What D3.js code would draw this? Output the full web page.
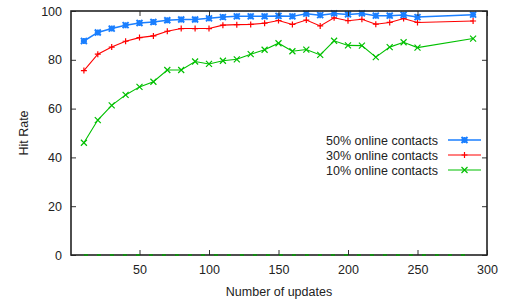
<!DOCTYPE html>
<html>
<head>
<meta charset="utf-8">
<script src="https://cdn.jsdelivr.net/npm/d3@7"></script>
<style>
  body { margin: 0; background: #fff; }
  text { font-family: "Liberation Sans", Arial, sans-serif; font-size: 12.5px; fill: #222; }
</style>
</head>
<body>
<div id="chart"></div>
<script>
// Data
var updates = [10, 20, 30, 40, 50, 60, 70, 80, 90, 100, 110, 120, 130, 140, 150,
               160, 170, 180, 190, 200, 210, 220, 230, 240, 250, 290];
var online50 = [87.7, 91.2, 92.8, 94.2, 95.1, 95.5, 96.2, 96.5, 96.5, 97.0, 97.5, 97.8, 97.8, 97.8, 98.0,
                97.8, 98.9, 98.3, 99.0, 98.6, 99.0, 98.1, 98.1, 98.4, 97.5, 98.5];
var online30 = [75.6, 82.3, 85.2, 87.6, 89.1, 89.8, 91.7, 92.8, 92.8, 92.8, 94.2, 94.4, 94.5, 95.0, 96.1,
                94.5, 96.3, 93.9, 97.2, 96.0, 96.6, 94.6, 95.3, 96.9, 95.3, 95.9];
var online10 = [46.0, 55.3, 61.3, 65.6, 68.9, 71.0, 75.8, 75.8, 79.3, 78.3, 79.6, 80.2, 82.3, 84.1, 86.8,
                83.5, 84.2, 82.0, 87.8, 85.9, 85.8, 81.1, 85.2, 87.2, 85.0, 88.7];
var baseline = updates.map(function() { return 0; });
var xTicks = [50, 100, 150, 200, 250, 300];
var yTicks = [0, 20, 40, 60, 80, 100];

var series = [
  { name: "50% online contacts", values: online50, color: "#1a7fff", mark: "star" },
  { name: "30% online contacts", values: online30, color: "#ff0000", mark: "plus" },
  { name: "10% online contacts", values: online10, color: "#00c000", mark: "cross" }
];

// Chart size
var width = 509, height = 302;
var plotL = 71, plotR = 487, plotT = 11, plotB = 255;

var xScale = d3.scaleLinear().domain([0, 300]).range([plotL - 1, plotR]);
var yScale = d3.scaleLinear().domain([0, 100]).range([plotB, plotT]);

var svg = d3.select('#chart').append('svg')
            .attr('width', width)
            .attr('height', height);

var line = d3.line()
             .x(function(d, i) { return xScale(updates[i]); })
             .y(function(d) { return yScale(d); });

// Markers
function drawMark(g, type, x, y, color) {
  var s = 3;
  var d = '';
  if (type === 'plus' || type === 'star') d += 'M' + (x - s) + ',' + y + 'H' + (x + s) + 'M' + x + ',' + (y - s) + 'V' + (y + s);
  if (type === 'cross' || type === 'star') d += 'M' + (x - s) + ',' + (y - s) + 'L' + (x + s) + ',' + (y + s) +
                                               'M' + (x - s) + ',' + (y + s) + 'L' + (x + s) + ',' + (y - s);
  g.append('path')
   .attr('d', d)
   .attr('fill', 'none')
   .attr('stroke', color)
   .attr('stroke-width', type === 'star' ? 1.9 : 1.2);
}

// Series
series.slice().reverse().forEach(function(s) {
  var g = svg.append('g');
  g.append('path')
   .datum(s.values)
   .attr('d', line)
   .attr('fill', 'none')
   .attr('stroke', s.color)
   .attr('stroke-width', s.mark === 'star' ? 1.5 : 1.1);
  s.values.forEach(function(v, i) {
    drawMark(g, s.mark, xScale(updates[i]), yScale(v), s.color);
  });
});

// Axes (ticks point inward, mirrored)
var xAxis = d3.axisBottom(xScale).tickValues(xTicks).tickSizeInner(-5).tickSizeOuter(0).tickPadding(10);
svg.append('g').attr('transform', 'translate(0,' + plotB + ')').call(xAxis);
var yAxis = d3.axisLeft(yScale).tickValues(yTicks).tickSizeInner(-5).tickSizeOuter(0).tickPadding(9);
svg.append('g').attr('transform', 'translate(' + plotL + ',0)').call(yAxis);
svg.append('g').attr('transform', 'translate(0,' + plotT + ')')
   .call(d3.axisTop(xScale).tickValues(xTicks).tickSizeInner(-5).tickSizeOuter(0).tickFormat(''));
svg.append('g').attr('transform', 'translate(' + plotR + ',0)')
   .call(d3.axisRight(yScale).tickValues(yTicks).tickSizeInner(-5).tickSizeOuter(0).tickFormat(''));
svg.selectAll('.domain').remove();
svg.selectAll('.tick line').attr('stroke', '#333').attr('stroke-width', 1);
svg.selectAll('.tick text').attr('font-size', 12.5).attr('font-family', '"Liberation Sans", Arial, sans-serif').attr('fill', '#222');

// Frame
svg.append('rect')
   .attr('x', plotL).attr('y', plotT)
   .attr('width', plotR - plotL).attr('height', plotB - plotT)
   .attr('fill', 'none').attr('stroke', '#222').attr('stroke-width', 1.6);

// Zero line (dashed green), drawn over the bottom edge
svg.append('path')
   .datum(baseline)
   .attr('d', line)
   .attr('fill', 'none')
   .attr('stroke', '#00a000')
   .attr('stroke-width', 1.6)
   .attr('stroke-dasharray', '4,9');

// Axis labels
svg.append('text').attr('x', (plotL + plotR) / 2).attr('y', 296).attr('text-anchor', 'middle').text('Number of updates');
svg.append('text').attr('transform', 'translate(28,' + ((plotT + plotB) / 2) + ') rotate(-90)')
   .attr('text-anchor', 'middle').text('Hit Rate');

// Legend
series.forEach(function(s, i) {
  var y = 140 + i * 15;
  svg.append('text').attr('x', 438).attr('y', y + 4.5).attr('text-anchor', 'end').text(s.name);
  svg.append('line').attr('x1', 448).attr('x2', 481).attr('y1', y).attr('y2', y)
     .attr('stroke', s.color).attr('stroke-width', s.mark === 'star' ? 1.5 : 1.1);
  drawMark(svg, s.mark, 464.5, y, s.color);
});
</script>
</body>
</html>
